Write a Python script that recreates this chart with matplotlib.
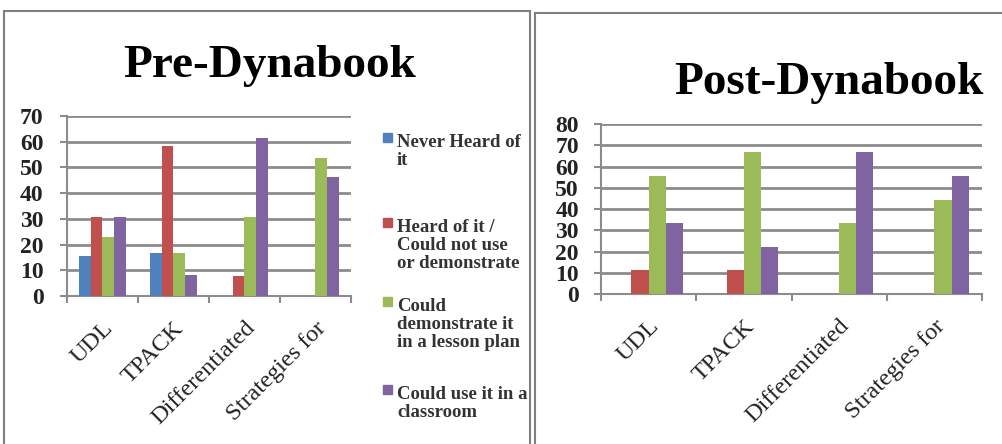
import numpy as np
import matplotlib
matplotlib.use("Agg")
import matplotlib.pyplot as plt
import matplotlib.transforms as mtransforms
from matplotlib.patches import Rectangle

categories = ["UDL", "TPACK", "Differentiated", "Strategies for"]
series_names = ["Never Heard of\nit",
                "Heard of it /\nCould not use\nor demonstrate",
                "Could\ndemonstrate it\nin a lesson plan",
                "Could use it in a\nclassroom"]
colors = ["#4F81BD", "#C0504D", "#9BBB59", "#8064A2"]

# Pre-Dynabook (%)
pre_never = [15.4, 16.7, 0, 0]
pre_heard = [30.8, 58.3, 7.7, 0]
pre_demo = [23.1, 16.7, 30.8, 53.8]
pre_use = [30.8, 8.3, 61.5, 46.2]

# Post-Dynabook (%)
post_never = [0, 0, 0, 0]
post_heard = [11.1, 11.1, 0, 0]
post_demo = [55.6, 66.7, 33.3, 44.4]
post_use = [33.3, 22.2, 66.7, 55.6]

plt.rcParams["font.family"] = ["Liberation Serif", "DejaVu Serif"]

fig = plt.figure(figsize=(10.03, 4.44), dpi=100)

# panel frames
fig.patches.append(Rectangle((4 / 1003, -0.1), 526 / 1003, 1.1 - 11 / 444,
                             transform=fig.transFigure, fill=False,
                             edgecolor="#7f7f7f", lw=1.5))
fig.patches.append(Rectangle((535 / 1003, -0.1), 0.6, 1.1 - 13 / 444,
                             transform=fig.transFigure, fill=False,
                             edgecolor="#7f7f7f", lw=1.5))


def draw(ax, data, ymax, width, pad):
    x = np.arange(len(categories)) + 0.5
    offs = (np.arange(4) - 1.5) * width
    for i, vals in enumerate(data):
        ax.bar(x + offs[i], vals, width, color=colors[i], zorder=3)
    ax.set_xlim(0, len(categories))
    ax.set_ylim(0, ymax)
    ax.set_yticks(np.arange(0, ymax + 1, 10))
    ax.set_xticks(np.arange(len(categories) + 1))
    ax.set_xticklabels([])
    ax.grid(axis="y", color="#8c8c8c", lw=2, zorder=0)
    for s in ["top", "right"]:
        ax.spines[s].set_visible(False)
    for s in ["left", "bottom"]:
        ax.spines[s].set_color("#8c8c8c")
        ax.spines[s].set_linewidth(1.5)
    ax.tick_params(axis="both", colors="#8c8c8c", width=1.5, length=5)
    ax.tick_params(axis="y", labelcolor="#222222", labelsize=17, pad=pad)
    for lab in ax.get_yticklabels():
        lab.set_fontweight("bold")
    base = mtransforms.blended_transform_factory(ax.transData, ax.transAxes)
    for i, c in enumerate(categories):
        tr = base + mtransforms.ScaledTranslation(7 / 100, -29 / 100,
                                                  fig.dpi_scale_trans)
        ax.text(x[i], 0, c, rotation=45, ha="right", va="center",
                rotation_mode="anchor", fontsize=17.5, color="#222222",
                transform=tr, clip_on=False)


ax1 = fig.add_axes([67 / 1003, 148 / 444, 284 / 1003, 180 / 444])
draw(ax1, [pre_never, pre_heard, pre_demo, pre_use], 70, 0.169, 12)

ax2 = fig.add_axes([601 / 1003, 150 / 444, 381 / 1003, 170 / 444])
draw(ax2, [post_never, post_heard, post_demo, post_use], 80, 0.18, 11)

fig.text(270 / 1003, 1 - 66 / 444, "Pre-Dynabook", ha="center", va="center",
         fontsize=34, fontweight="bold")
fig.text(829 / 1003, 1 - 83 / 444, "Post-Dynabook", ha="center", va="center",
         fontsize=34, fontweight="bold")

# legend
leg_y = [134, 219, 298, 386]
for i in range(4):
    fig.patches.append(Rectangle((383 / 1003, 1 - (leg_y[i] + 8) / 444),
                                 9 / 1003, 9 / 444, transform=fig.transFigure,
                                 color=colors[i]))
    fig.text(397 / 1003, 1 - leg_y[i] / 444, series_names[i], ha="left",
             va="top", fontsize=13.5, fontweight="bold", color="#333333",
             linespacing=1.08)

fig.savefig("out.png", dpi=100)
